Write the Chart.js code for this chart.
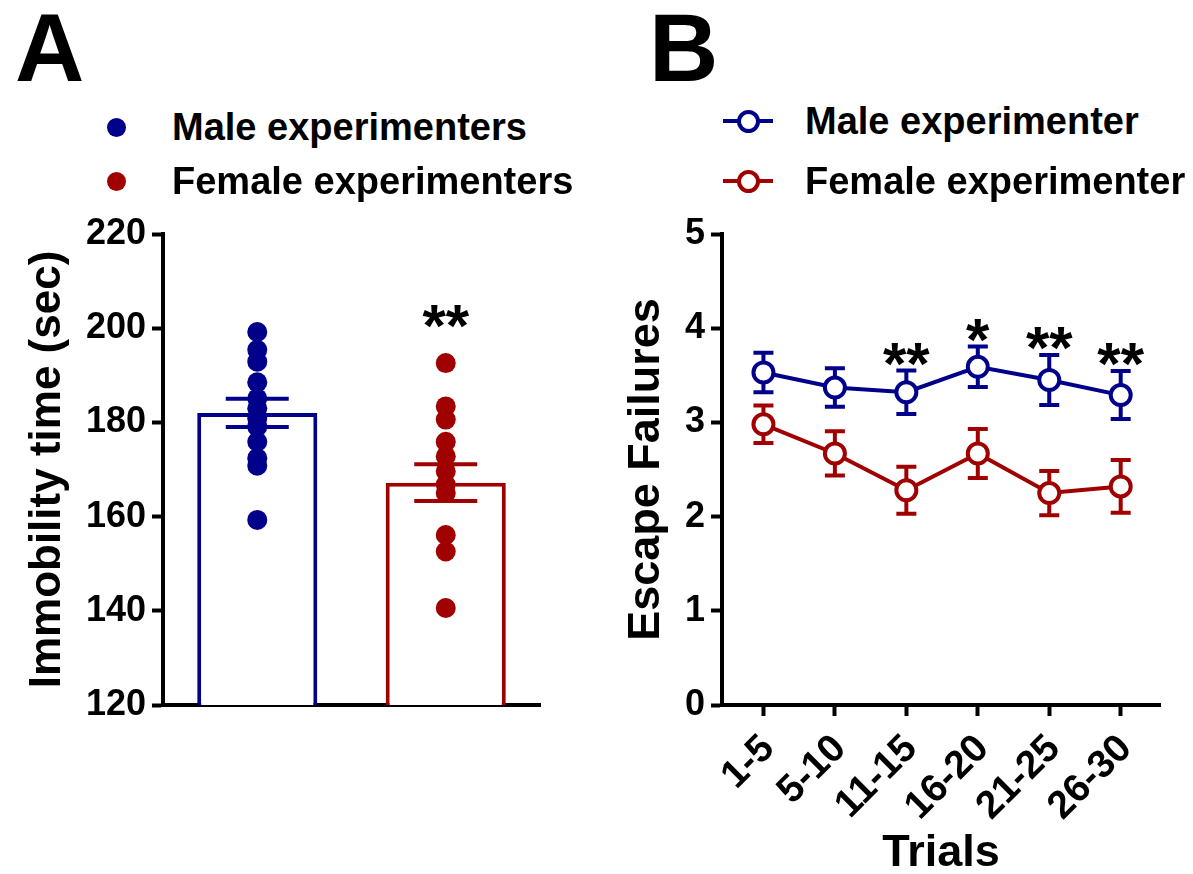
<!DOCTYPE html>
<html>
<head>
<meta charset="utf-8">
<script src="https://cdn.jsdelivr.net/npm/chart.js@4.4.1/dist/chart.umd.min.js"></script>
<style>
  body { margin: 0; width: 1193px; height: 874px; overflow: hidden; background: #fff;
         font-family: 'Liberation Sans', Arial, sans-serif; font-weight: bold; color: #000; }
  .letter { position: absolute; font-size: 96px; line-height: 96px; }
  .legend-row { position: absolute; font-size: 38px; line-height: 40px; white-space: nowrap; }
  .dot { position: absolute; top: 10.5px; width: 19px; height: 19px; margin-left: -9.5px;
         border-radius: 50%; background: var(--c); }
  .ring-line { position: absolute; top: 18px; width: 50px; height: 4px; margin-left: -25px; background: var(--c); }
  .ring-line::after { content: ''; position: absolute; left: 13.5px; top: -9.5px; width: 15px; height: 15px;
         border: 4px solid var(--c); border-radius: 50%; background: #fff; }
  canvas { position: absolute; top: 200px; }
</style>
</head>
<body>
<div class="letter" style="left:15px;top:0px">A</div>
<div class="letter" style="left:649px;top:0px">B</div>
<canvas id="immobility" width="600" height="535" style="left:0px"></canvas>
<canvas id="failures" width="593" height="676" style="left:600px"></canvas>
<script>
// forced swim: immobility per animal, by experimenter sex
const groups = ['Male experimenters', 'Female experimenters'];
const maleImmobility = [199.2, 195.4, 192.9, 188.5, 185.1, 183.0, 180.9, 179.1, 175.9, 172.4, 170.8, 159.3];
const femaleImmobility = [192.6, 183.4, 180.6, 175.9, 172.8, 169.6, 166.8, 165.0, 156.1, 152.6, 140.6];
const immobilityMean = [182.0, 167.2];
const immobilitySem = [3.0, 3.9];
const immobilityStars = ['', '**'];
const immobilityTicks = [120, 140, 160, 180, 200, 220];

// learned helplessness: escape failures per block of trials
const trialBins = ['1-5', '5-10', '11-15', '16-20', '21-25', '26-30'];
const seriesNames = ['Male experimenter', 'Female experimenter'];
const maleFailures = [3.53, 3.37, 3.32, 3.59, 3.45, 3.29];
const maleFailuresSem = [0.21, 0.205, 0.23, 0.215, 0.265, 0.255];
const femaleFailures = [2.98, 2.67, 2.28, 2.67, 2.25, 2.32];
const femaleFailuresSem = [0.2, 0.235, 0.25, 0.26, 0.235, 0.28];
const failureStars = ['', '', '**', '*', '**', '**'];
const failureTicks = [0, 1, 2, 3, 4, 5];

const navy = '#00008B';
const darkRed = '#A00000';
const family = "'Liberation Sans', Arial, sans-serif";

// mean +/- SEM whiskers, read from dataset.sem
const errorBars = {
  id: 'errorBars',
  draw(chart, index, opts) {
    const ds = chart.data.datasets[index];
    if (!ds.sem) return;
    const ctx = chart.ctx;
    const y = chart.scales.y;
    const meta = chart.getDatasetMeta(index);
    ctx.save();
    ctx.lineWidth = opts.width;
    meta.data.forEach((el, i) => {
      const d = ds.data[i];
      const v = typeof d === 'object' ? d.y : d;
      const top = y.getPixelForValue(v + ds.sem[i]);
      const bottom = y.getPixelForValue(v - ds.sem[i]);
      const half = opts.cap / 2;
      ctx.strokeStyle = Array.isArray(ds.borderColor) ? ds.borderColor[i] : ds.borderColor;
      ctx.beginPath();
      ctx.moveTo(el.x, top); ctx.lineTo(el.x, bottom);
      ctx.moveTo(el.x - half, top); ctx.lineTo(el.x + half, top);
      ctx.moveTo(el.x - half, bottom); ctx.lineTo(el.x + half, bottom);
      ctx.stroke();
    });
    ctx.restore();
  },
  beforeDatasetDraw(chart, args, opts) { if (opts.under) this.draw(chart, args.index, opts); },
  afterDatasetDraw(chart, args, opts) { if (!opts.under) this.draw(chart, args.index, opts); }
};

// significance asterisks above each group
const starMarks = {
  id: 'starMarks',
  afterDatasetsDraw(chart, args, opts) {
    const ctx = chart.ctx;
    ctx.save();
    ctx.font = 'bold ' + opts.size + 'px ' + family;
    ctx.fillStyle = '#000';
    ctx.textAlign = 'center';
    ctx.textBaseline = 'alphabetic';
    opts.labels.forEach((txt, i) => {
      if (!txt) return;
      const p = opts.anchor(chart, i);
      // the asterisk glyph sits high: its centre is ~0.45em above the baseline
      ctx.fillText(txt, p.x, p.y - opts.lift + opts.size * 0.45);
    });
    ctx.restore();
  }
};

function axisLook(size) {
  return {
    grid: { drawOnChartArea: false, drawTicks: true, tickLength: 11, tickWidth: 4, tickColor: '#000' },
    border: { display: true, width: 4, color: '#000' },
    ticks: { color: '#000', font: { family, size, weight: 'bold' }, padding: 6 }
  };
}

function addLegend(names, colors, o) {
  names.forEach((name, i) => {
    const row = document.createElement('div');
    row.className = 'legend-row';
    row.style.left = o.textX + 'px';
    row.style.top = (o.rowY[i] - 20) + 'px';
    row.textContent = name;
    const sym = document.createElement('span');
    sym.className = o.symbol;
    sym.style.setProperty('--c', colors[i]);
    sym.style.left = (o.symbolX - o.textX) + 'px';
    row.appendChild(sym);
    document.body.appendChild(row);
  });
}

Chart.defaults.animation = false;
Chart.defaults.events = [];
Chart.defaults.plugins.legend.display = false;
Chart.defaults.plugins.tooltip.enabled = false;

const dotsAt = (name, values) => values.map(v => ({ x: name, y: v }));

// panel A
new Chart(document.getElementById('immobility'), {
  type: 'bar',
  data: {
    labels: groups,
    datasets: [
      { type: 'line', data: dotsAt(groups[0], maleImmobility), showLine: false,
        pointRadius: 10, pointBorderWidth: 0, pointBackgroundColor: navy, order: 0 },
      { type: 'line', data: dotsAt(groups[1], femaleImmobility), showLine: false,
        pointRadius: 10, pointBorderWidth: 0, pointBackgroundColor: darkRed, order: 0 },
      { type: 'bar', data: immobilityMean, sem: immobilitySem, borderColor: [navy, darkRed],
        backgroundColor: '#fff', borderWidth: 4, barPercentage: 0.637, categoryPercentage: 1, order: 1 }
    ]
  },
  options: {
    responsive: false,
    layout: { padding: { top: 34, right: 60, bottom: 0, left: 0 } },
    scales: {
      x: { type: 'category', offset: true, grid: { display: false },
           border: { display: true, width: 4, color: '#000' }, ticks: { display: false },
           afterFit: s => { s.height = 30; } },
      y: Object.assign(axisLook(36), {
        min: 120, max: 220,
        afterBuildTicks: s => { s.ticks = immobilityTicks.map(v => ({ value: v })); },
        title: { display: true, text: 'Immobility time (sec)', color: '#000',
                 font: { family, size: 44, weight: 'bold', lineHeight: 1 }, padding: { top: 26, bottom: 0 } },
        afterFit: s => { s.width = 163; }
      })
    },
    plugins: {
      errorBars: { width: 4, cap: 63, under: false },
      starMarks: {
        labels: immobilityStars, size: 60, lift: 44,
        anchor: (chart, i) => {
          const pts = chart.getDatasetMeta(i).data;
          return { x: pts[0].x, y: Math.min(...pts.map(p => p.y)) };
        }
      }
    }
  },
  plugins: [errorBars, starMarks]
});

// panel B
const pointsOf = values => values.map((v, i) => ({ x: i + 1, y: v }));
const failureLine = (values, sem, color) => ({
  data: pointsOf(values), sem, borderColor: color, borderWidth: 4, tension: 0,
  pointRadius: 10, pointBorderWidth: 4, pointBorderColor: color, pointBackgroundColor: '#fff'
});

const xLook = axisLook(39);
Object.assign(xLook.ticks, {
  minRotation: 45, maxRotation: 45, autoSkip: false, padding: 10, labelOffset: 5,
  callback: (v, i) => trialBins[i]
});

new Chart(document.getElementById('failures'), {
  type: 'line',
  data: {
    datasets: [
      failureLine(maleFailures, maleFailuresSem, navy),
      failureLine(femaleFailures, femaleFailuresSem, darkRed)
    ]
  },
  options: {
    responsive: false,
    layout: { padding: { top: 34, right: 33, bottom: 0, left: 0 } },
    scales: {
      x: Object.assign(xLook, {
        type: 'linear', min: 0.42, max: 6.55,
        afterBuildTicks: s => { s.ticks = trialBins.map((_, i) => ({ value: i + 1 })); },
        title: { display: true, text: 'Trials', color: '#000',
                 font: { family, size: 45, weight: 'bold', lineHeight: 1 }, padding: { top: 0, bottom: 0 } },
        afterFit: s => { s.height = 171; }
      }),
      y: Object.assign(axisLook(36), {
        min: 0, max: 5,
        afterBuildTicks: s => { s.ticks = failureTicks.map(v => ({ value: v })); },
        title: { display: true, text: 'Escape Failures', color: '#000',
                 font: { family, size: 45, weight: 'bold', lineHeight: 1 }, padding: { top: 24, bottom: 0 } },
        afterFit: s => { s.width = 122; }
      })
    },
    plugins: {
      errorBars: { width: 4, cap: 20, under: true },
      starMarks: {
        labels: failureStars, size: 60, lift: 14,
        anchor: (chart, i) => ({
          x: chart.getDatasetMeta(0).data[i].x,
          y: chart.scales.y.getPixelForValue(maleFailures[i] + maleFailuresSem[i])
        })
      }
    }
  },
  plugins: [errorBars, starMarks]
});

addLegend(groups, [navy, darkRed], { textX: 172, symbolX: 116, rowY: [127, 181], symbol: 'dot' });
addLegend(seriesNames, [navy, darkRed], { textX: 805, symbolX: 748, rowY: [121, 181], symbol: 'ring-line' });
</script>
</body>
</html>
